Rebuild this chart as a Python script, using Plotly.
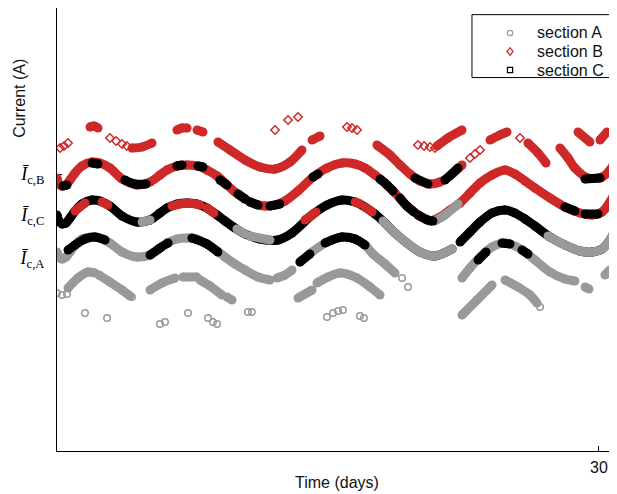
import plotly.graph_objects as go

# ---------------- data (time in days, current in A, arbitrary offset) ----------------
# section B (red) main band
B_main_d = [0.00,0.11,0.28,0.50,0.72,1.00,1.38,1.94,2.38,2.93,3.60,4.43,5.15,5.70,6.09,6.64,7.20,7.75,8.30,8.86,
            9.30,9.85,10.41,10.96,11.51,12.07,12.62,13.34,14.12,14.95,15.78,16.50,17.05,17.60,18.16,18.71,19.37,20.09,20.65,21.20,
            21.75,22.31,22.86,23.42,24.08,24.80,25.35,25.91,26.46,27.29,28.12,28.95,29.62,30.17,30.61,31.00]
B_main_c = [27.3,26.7,26.5,26.6,27.1,27.8,28.5,28.9,28.8,28.3,27.2,26.6,26.9,27.6,28.1,28.5,28.6,28.5,28.1,27.5,
            26.8,25.9,25.2,24.7,24.5,24.6,25.0,26.0,27.3,28.3,28.8,28.7,28.3,27.6,26.8,25.8,24.5,23.5,23.0,23.4,
            24.1,24.8,25.8,26.8,27.6,28.1,27.7,27.0,26.3,25.3,24.4,23.8,23.6,23.9,24.9,26.3]

# section C (black) main band, two pieces
C_main1_d = [0.00,0.11,0.28,0.50,0.72,1.00,1.38,1.94,2.38,2.93,3.60,4.43,5.15,5.70,6.09,6.64,7.20,7.75,8.30,8.86,
             9.30,9.85,10.41,11.24,12.23,13.01,14.12,14.95,15.78,16.50,17.05,17.60,18.16,18.71,19.37,20.09,20.92,21.87]
C_main1_c = [23.6,23.0,22.7,22.8,23.3,24.0,24.7,25.1,25.0,24.5,23.5,22.9,23.1,23.8,24.3,24.7,24.8,24.7,24.3,23.6,
             23.0,22.3,21.7,21.2,21.1,21.8,23.6,24.6,25.1,24.9,24.4,23.7,22.8,21.8,20.8,19.9,19.5,20.2]
C_main2_d = [22.31,22.86,23.42,24.08,24.80,25.35,25.91,26.46,27.29,28.12,28.95,29.62,30.17,30.61,31.00]
C_main2_c = [20.9,21.9,22.9,23.8,24.1,23.8,23.2,22.5,21.4,20.6,20.0,19.9,20.2,21.1,22.5]

# section A (gray) main band pieces
A_main1_d = [0.00,0.11,0.28,0.50,0.72,1.00,1.38,1.94,2.38,2.93,3.60,4.43,5.15,5.70,6.09,6.64,7.20,7.75,8.30,8.86,
             9.30,9.85,10.41,11.13,11.79]
A_main1_c = [19.9,19.4,19.2,19.4,19.9,20.6,21.2,21.4,21.3,20.8,19.9,19.4,19.6,20.3,20.8,21.2,21.3,21.2,20.7,20.0,
             19.4,18.7,18.1,17.4,17.1]
A_main_pieces = [
    ([12.18,12.62,13.01], [17.3,17.6,18.1]),
    ([13.45,14.12,14.95,15.78,16.50,17.05,17.49,18.16,18.71], [18.9,19.9,20.9,21.4,21.2,20.6,19.7,18.7,17.8]),
    ([22.42,22.86,23.42,24.08,24.80,25.35,25.91,26.46,27.29,28.12,28.67], [17.3,18.3,19.4,20.4,20.8,20.5,19.9,19.1,17.9,17.2,17.0]),
    ([29.23,29.45], [16.4,16.2]),
    ([30.33,30.61], [17.6,18.1]),
]
# section A lower band pieces
A_low_pieces = [
    ([0.61,1.16,1.72,2.10], [16.3,17.3,17.9,17.8]),
    ([2.32,2.93,3.60,4.04], [17.6,16.9,16.1,15.5]),
    ([5.15,5.81,6.53], [16.1,16.8,17.3]),
    ([6.97,7.75], [17.4,17.4]),
    ([7.92,8.47,9.13], [17.1,16.5,15.6]),
    ([9.41,9.69], [15.4,15.1]),
    ([13.34,14.12], [15.3,16.1]),
    ([14.39,15.00,15.67,16.61,17.33,17.88], [16.8,17.4,17.8,17.3,16.4,15.6]),
    ([22.42,23.25,24.08], [13.6,15.1,16.6]),
    ([24.80,25.52,26.18,26.57], [17.1,16.4,15.6,14.8]),
]
# section A isolated samples
A_pts_d = [19.10,19.43,30.89,0.00,0.28,0.55,4.15,26.74,
           1.55,2.77,5.70,5.98,7.25,8.36,8.63,8.86,10.57,10.79,14.95,15.28,15.56,15.83,16.77,16.99]
A_pts_c = [17.3,16.4,19.4,15.8,15.6,15.7,15.4,14.4,
           13.8,13.3,12.7,12.9,13.8,13.3,12.9,12.7,13.9,13.9,13.4,13.8,14.0,14.1,13.5,13.3]

# section B upper band pieces
B_up_pieces = [
    ([1.83,2.05,2.27], [32.4,32.5,32.3]),
    ([4.15,4.71,5.26], [30.3,30.4,30.8]),
    ([6.64,6.92,7.20], [32.1,32.3,32.3]),
    ([7.75,8.08], [32.1,31.9]),
    ([8.91,9.58,10.41,11.24,12.07,12.90,13.56], [30.9,30.1,29.1,28.4,28.2,28.9,30.1]),
    ([14.12,14.56], [31.1,31.5]),
    ([17.71,18.43,18.99,19.54,20.09,20.65,21.20,21.75,22.42], [30.6,29.6,28.6,27.7,27.0,26.7,26.9,27.5,28.6]),
    ([21.04,21.64,22.42], [30.5,31.3,32.1]),
    ([23.97,24.52,24.91], [31.1,31.6,31.9]),
    ([26.07,26.63,27.07], [30.8,29.8,28.8]),
    ([27.84,28.29,28.67,29.39,30.17,30.61,31.00], [30.3,29.3,28.3,27.3,27.4,28.1,29.3]),
    ([28.84,29.50], [31.9,30.9]),
    ([30.06,30.45], [31.1,31.9]),
]
# section B isolated samples
B_pts_d = [0.17,0.39,0.61,2.93,3.27,3.60,3.87,12.07,12.79,13.34,16.05,16.33,16.61,19.98,20.32,20.65,20.92,22.86,23.14,23.42,25.63]
B_pts_c = [30.3,30.5,30.8,31.3,31.0,30.7,30.5,32.1,33.1,33.4,32.4,32.3,32.1,30.6,30.5,30.4,30.3,29.3,29.7,30.1,31.3]

# where sections share a band: stretches of other sections lying on each band
C_on_B = [
    ([0.33,0.55], [26.5,26.6]), ([1.94,2.27], [28.8,28.7]), ([3.76,4.32,4.93], [27.1,26.7,26.7]),
    ([6.64,6.92], [28.5,28.6]), ([7.81,8.08], [28.5,28.4]), ([9.02,9.41], [27.1,26.6]),
    ([10.02,10.41], [25.7,25.2]), ([10.68,11.13], [24.9,24.6]), ([11.79,12.34], [24.5,24.7]),
    ([14.17,14.45], [27.4,27.7]), ([17.88,18.27,18.60], [27.2,26.6,26.0]), ([18.99,19.37,19.76], [25.3,24.5,23.9]),
    ([19.98,20.54,20.81], [23.6,23.1,23.0]), ([28.12,28.67], [24.4,24.0]), ([29.23,29.95], [23.7,23.7]),
    ([19.82,20.54], [27.3,26.7]), ([21.48,22.20], [27.1,28.3]), ([29.23,30.06], [27.2,27.3]),
]
A_on_B = [([20.92,21.48,22.20], [23.0,23.6,24.7])]
B_on_C = [
    ([1.00,1.55], [24.0,24.8]), ([2.49,2.82], [24.9,24.6]), ([6.37,7.20,7.92], [24.5,24.8,24.6]),
    ([8.30,8.69], [24.3,23.8]), ([13.73,14.34], [23.1,23.9]), ([16.50,16.77], [24.9,24.7]), ([17.05,17.44], [24.4,23.9]),
]
A_on_C = [
    ([4.71,5.15], [22.9,23.1]), ([9.96,10.41], [22.2,21.7]), ([10.68,11.79], [21.5,21.1]),
    ([18.05,18.71,19.37,20.09,20.92,21.87], [23.0,21.8,20.8,19.9,19.5,20.2]),
    ([27.18,28.12,28.95,29.62,30.17,30.61,31.00], [21.5,20.6,20.0,19.9,20.2,21.1,22.5]),
]
C_on_A = [
    ([0.61,1.00,1.55,2.10,2.66], [20.1,20.6,21.2,21.4,21.1]), ([5.15,5.70,6.15], [19.6,20.3,20.8]),
    ([7.47,8.30,8.91], [21.3,20.7,19.9]), ([13.45,14.00], [18.9,19.7]),
    ([14.84,15.78,16.50,17.05], [20.8,21.4,21.2,20.6]), ([23.31,23.75], [19.1,19.9]),
    ([24.63,25.08], [20.8,20.7]), ([25.74,26.07], [20.1,19.7]),
]

# axis ticks
y_tick_vals = [19.3, 23.6, 27.7]
y_tick_text = ["<i>Ī</i><sub>c,A</sub>", "<i>Ī</i><sub>c,C</sub>", "<i>Ī</i><sub>c,B</sub>"]
x_tick_vals = [30]
x_tick_text = ["30"]
legend_names = ["section A", "section B", "section C"]

# ---------------- styling ----------------
COL = {"A": "#999999", "B": "#cf2828", "C": "#000000"}
SYM = {"A": "circle-open", "B": "diamond-open", "C": "square-open"}
BAND_W = 9
TXT = "#111111"
SANS = "Liberation Sans, Arial, sans-serif"

fig = go.Figure()


def band(days, cur, key):
    fig.add_trace(go.Scatter(
        x=days, y=cur, mode="lines+markers",
        line=dict(color=COL[key], width=BAND_W, shape="spline", smoothing=0.8),
        marker=dict(color=COL[key], size=BAND_W, line=dict(width=0)),
        showlegend=False, hoverinfo="skip"))


def points(days, cur, key, size=6.5):
    fig.add_trace(go.Scatter(
        x=days, y=cur, mode="markers",
        marker=dict(symbol=SYM[key], color=COL[key], size=size, line=dict(width=1.5, color=COL[key])),
        showlegend=False, hoverinfo="skip"))


# base bands
band(A_main1_d, A_main1_c, "A")
for d, c in A_main_pieces:
    band(d, c, "A")
for d, c in A_low_pieces:
    band(d, c, "A")
band(C_main1_d, C_main1_c, "C")
band(C_main2_d, C_main2_c, "C")
band(B_main_d, B_main_c, "B")
for d, c in B_up_pieces:
    band(d, c, "B")

# mixed stretches
for d, c in A_on_C:
    band(d, c, "A")
for d, c in B_on_C:
    band(d, c, "B")
for d, c in C_on_A:
    band(d, c, "C")
for d, c in A_on_B:
    band(d, c, "A")
for d, c in C_on_B:
    band(d, c, "C")

# isolated samples
points(A_pts_d, A_pts_c, "A")
points(B_pts_d, B_pts_c, "B")

# ---------------- legend (drawn in plot-fraction coordinates) ----------------
shapes = [dict(type="rect", xref="paper", yref="paper", x0=0.741, x1=0.991, y0=0.843, y1=0.985,
               line=dict(color="black", width=1), fillcolor="white", layer="above")]
annotations = []
row_y = [0.9436, 0.9018, 0.8600]
mx = 0.809
for key, name, yy in zip(["A", "B", "C"], legend_names, row_y):
    if key == "A":
        shapes.append(dict(type="circle", xref="paper", yref="paper", xsizemode="pixel", ysizemode="pixel",
                           xanchor=mx, yanchor=yy, x0=-2.7, x1=2.7, y0=-2.7, y1=2.7,
                           line=dict(color=COL[key], width=1.2), layer="above"))
    elif key == "B":
        shapes.append(dict(type="path", xref="paper", yref="paper", xsizemode="pixel", ysizemode="pixel",
                           xanchor=mx, yanchor=yy, path="M0,-3.8 L3,0 L0,3.8 L-3,0 Z",
                           line=dict(color=COL[key], width=1.3), layer="above"))
    else:
        shapes.append(dict(type="rect", xref="paper", yref="paper", xsizemode="pixel", ysizemode="pixel",
                           xanchor=mx, yanchor=yy, x0=-2.6, x1=2.6, y0=-2.6, y1=2.6,
                           line=dict(color=COL[key], width=1.2), layer="above"))
    annotations.append(dict(text=name, xref="paper", yref="paper", x=0.8536, y=yy, xanchor="left",
                            yanchor="middle", showarrow=False, font=dict(family=SANS, size=16, color=TXT)))

annotations += [
    dict(text="Time (days)", xref="paper", yref="paper", x=0.5, y=-0.0722, xanchor="center", yanchor="middle",
         showarrow=False, font=dict(family=SANS, size=16, color=TXT)),
    dict(text="Current (A)", xref="paper", yref="paper", x=-0.066, y=0.795, xanchor="center", yanchor="middle",
         textangle=-90, showarrow=False, font=dict(family=SANS, size=16, color=TXT)),
]

# the page body adds an 8 px offset, so the figure is 8 px smaller and its top/left margins 8 px less
fig.update_layout(
    width=609, height=486,
    margin=dict(l=49, r=0, t=0, b=43, autoexpand=False),
    paper_bgcolor="white", plot_bgcolor="white",
    showlegend=False,
    font=dict(family=SANS, size=16, color=TXT),
    xaxis=dict(range=[0, 31], showgrid=False, zeroline=False, showline=True, linecolor="black", linewidth=1,
               ticks="inside", ticklen=5, tickcolor="black", tickvals=x_tick_vals, ticktext=x_tick_text,
               layer="below traces", ticklabelstandoff=2, automargin=False),
    yaxis=dict(range=[0, 44.3], showgrid=False, zeroline=False, showline=True, linecolor="black", linewidth=1,
               ticks="inside", ticklen=5, tickcolor="black", tickvals=y_tick_vals, ticktext=y_tick_text,
               tickfont=dict(family="Liberation Serif, Times New Roman, serif", size=18, color="black"),
               layer="below traces", ticklabelstandoff=8, automargin=False),
    shapes=shapes,
    annotations=annotations,
)

fig.write_html("out.html")
